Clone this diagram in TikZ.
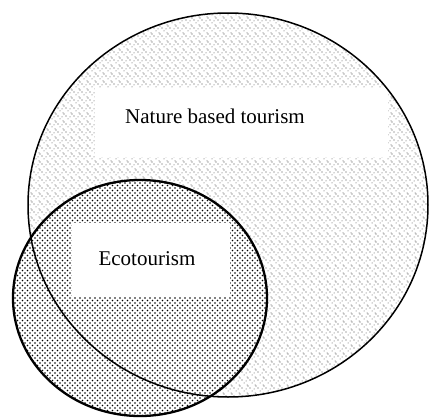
\documentclass[tikz,border=0pt]{standalone}
\usepackage{fontspec}
\setmainfont{Liberation Serif}
\usepackage{tikz}
\usetikzlibrary{patterns,positioning}

% sparse stipple for the large set
\pgfdeclarepatternformonly{natstipple}{\pgfqpoint{-1pt}{-1pt}}{\pgfqpoint{9pt}{9pt}}{\pgfqpoint{8pt}{8pt}}%
{
  \pgfpathcircle{\pgfqpoint{0pt}{0pt}}{0.6pt}
  \pgfpathcircle{\pgfqpoint{4pt}{3pt}}{0.5pt}
  \pgfpathcircle{\pgfqpoint{2pt}{6pt}}{0.6pt}
  \pgfpathcircle{\pgfqpoint{6pt}{5pt}}{0.5pt}
  \pgfpathcircle{\pgfqpoint{7pt}{1pt}}{0.5pt}
  \pgfusepath{fill}
}
% dense checker dots for the small set
\pgfdeclarepatternformonly{ecostipple}{\pgfqpoint{-1pt}{-1pt}}{\pgfqpoint{6pt}{6pt}}{\pgfqpoint{5pt}{5pt}}%
{
  \pgfpathcircle{\pgfqpoint{0pt}{0pt}}{0.9pt}
  \pgfpathcircle{\pgfqpoint{2.5pt}{2.5pt}}{0.9pt}
  \pgfusepath{fill}
}

\tikzset{
  natfill/.style={pattern=natstipple, pattern color=black!70},
  ecofill/.style={pattern=ecostipple, pattern color=black},
  whitebox/.style={fill=white, draw=none, inner sep=0pt},
  setlabel/.style={font=\fontsize{21}{25}\selectfont, inner sep=0pt}
}

\begin{document}
\begin{tikzpicture}[x=1pt,y=-1pt]
            \useasboundingbox (0,0) rectangle (429,418);
            % Define centres
            \coordinate (N) at (228,205);
            \coordinate (E) at (140,298);
            % Shade the sets
            \fill[natfill] (N) ellipse [x radius=200, y radius=192];
            \fill[white] (E) ellipse [x radius=127, y radius=118];
            \fill[ecofill] (E) ellipse [x radius=127, y radius=118];
            % White boxes behind the names
            \node[whitebox, minimum width=293pt, minimum height=69pt] (natbox) at (241.5,122.5) {};
            \node[whitebox, minimum width=158pt, minimum height=74pt] (ecobox) at (151,260) {};
            % Label the sets
            \node[setlabel] (nat) at (215,116) {Nature based tourism};
            \node[setlabel] (eco) at (147,259) {Ecotourism};
            % Outlines
            \draw[line width=1.5pt] (N) ellipse [x radius=200, y radius=192];
            \draw[line width=2.3pt] (E) ellipse [x radius=127, y radius=118];
          \end{tikzpicture}
\end{document}
